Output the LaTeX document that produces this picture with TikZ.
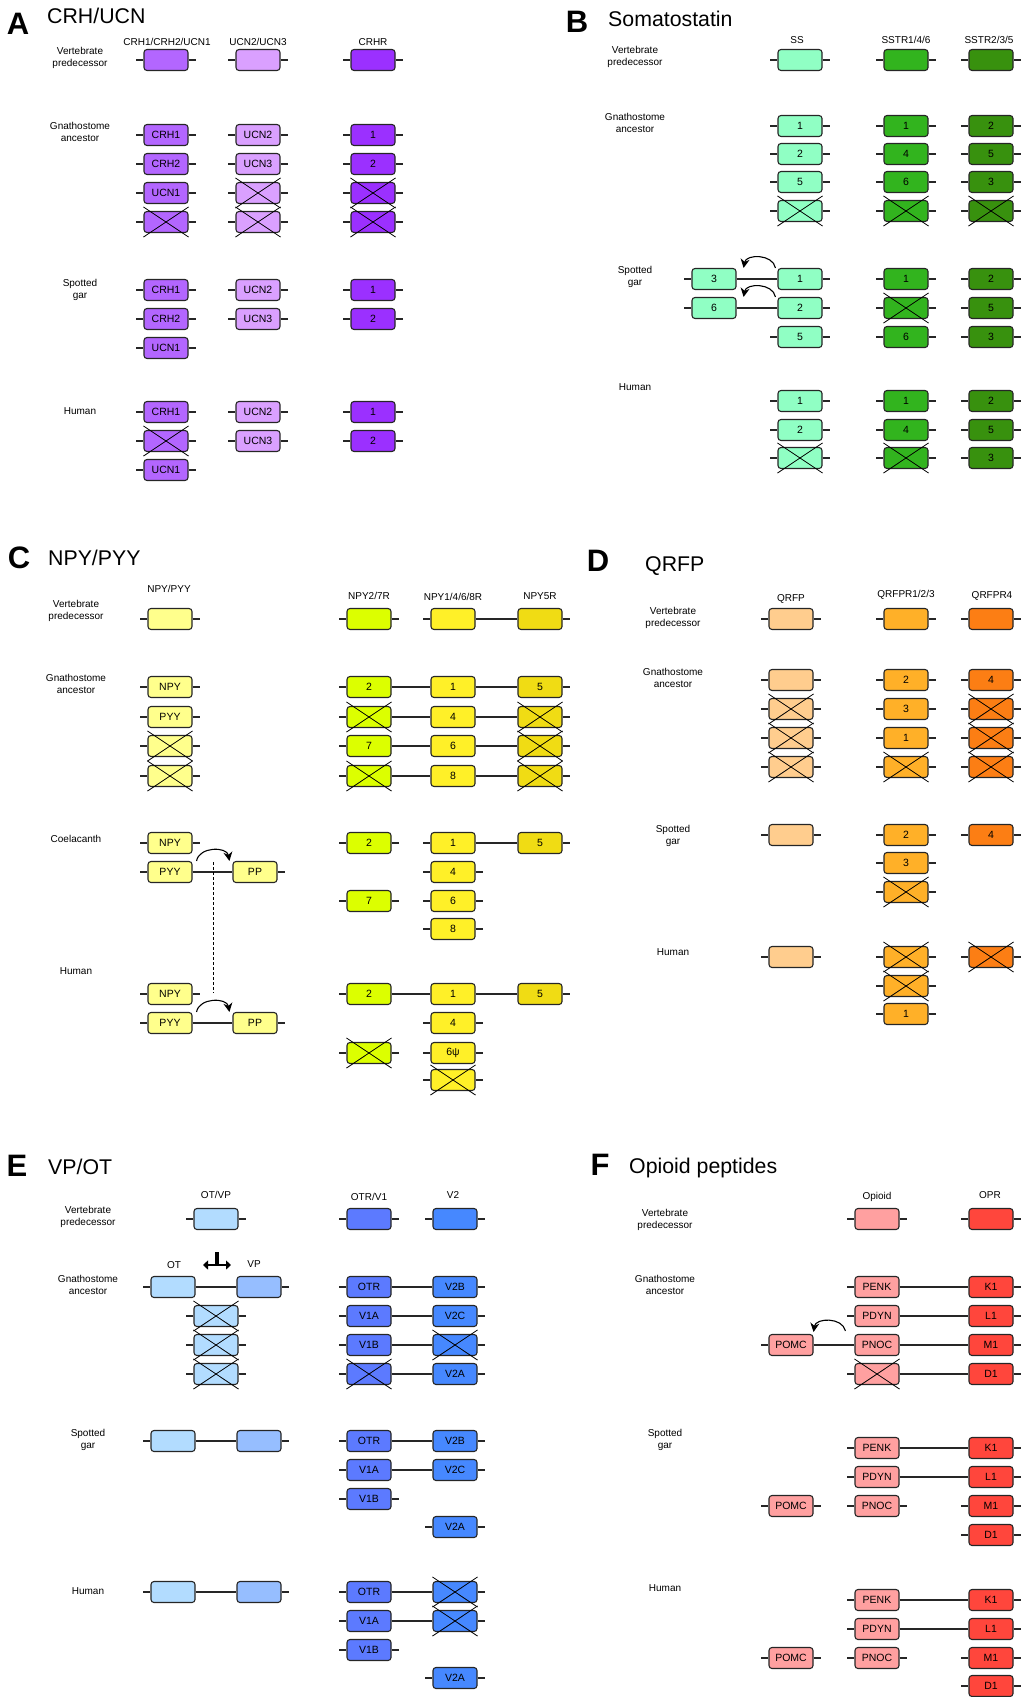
\documentclass[tikz,border=0pt]{standalone}
\usepackage{fontspec}
\setmainfont{Liberation Sans}
\usetikzlibrary{positioning,calc,arrows.meta}

\definecolor{crh}{RGB}{179,102,255}
\definecolor{ucn}{RGB}{218,160,255}
\definecolor{crhr}{RGB}{155,48,255}
\definecolor{ss}{RGB}{144,255,196}
\definecolor{sstra}{RGB}{50,180,30}
\definecolor{sstrb}{RGB}{56,145,14}
\definecolor{npy}{RGB}{255,255,140}
\definecolor{npyb}{RGB}{220,255,0}
\definecolor{npyc}{RGB}{255,240,40}
\definecolor{npyd}{RGB}{240,220,20}
\definecolor{qrfp}{RGB}{255,205,142}
\definecolor{qrfpr}{RGB}{255,176,40}
\definecolor{qrfprf}{RGB}{252,126,20}
\definecolor{ot}{RGB}{178,220,255}
\definecolor{vp}{RGB}{150,190,255}
\definecolor{otr}{RGB}{92,122,255}
\definecolor{vtwo}{RGB}{70,136,255}
\definecolor{opi}{RGB}{255,160,160}
\definecolor{opr}{RGB}{255,70,60}

\tikzset{
	gene/.style={draw=black!85, line width=1.1pt, rounded corners=3pt, fill=#1,
		minimum width=44pt, minimum height=21pt, inner sep=0pt,
		font=\fontsize{10.5}{12}\selectfont,
		append after command={
			([xshift=-7pt]\tikzlastnode.west) edge[stub] (\tikzlastnode.west)
			(\tikzlastnode.east) edge[stub] ([xshift=7pt]\tikzlastnode.east)}},
	gene/.default=white,
	stub/.style={draw=black!85, line width=1.1pt},
	lost/.style={append after command={
			([yshift=4pt]\tikzlastnode.north west) edge[cross] ([yshift=-4pt]\tikzlastnode.south east)
			([yshift=4pt]\tikzlastnode.north east) edge[cross] ([yshift=-4pt]\tikzlastnode.south west)}},
	cross/.style={draw=black, line width=0.8pt},
	link/.style={draw=black!85, line width=1.1pt},
	jump/.style={line width=1.1pt, looseness=1.15, -{Stealth[length=9pt,width=9pt]}},
	lbl/.style={align=center, inner sep=0pt, font=\fontsize{10}{12.5}\selectfont},
	hdr/.style={inner sep=0pt, font=\fontsize{10}{12}\selectfont},
	ttl/.style={anchor=west, inner sep=0pt, font=\fontsize{21.3}{24}\selectfont},
	panel/.style={inner sep=0pt, font=\fontsize{31}{32}\selectfont\bfseries}
}

\begin{document}
\begin{tikzpicture}[x=1pt, y=-1pt]
	\useasboundingbox (0,0) rectangle (1021,1697);

	% A: CRH/UCN
	\node[panel] (pA) at (18,24) {A};
	\node[ttl] (tA) at (47,16) {CRH/UCN};
	\node[hdr] (acol1) at (167,42) {CRH1/CRH2/UCN1};
	\node[hdr] (acol2) at (258,42) {UCN2/UCN3};
	\node[hdr] (acol3) at (373,42) {CRHR};
	\node[lbl] (arow1) at (80,58)  {Vertebrate\\predecessor};
	\node[lbl] (arow2) at (80,132) {Gnathostome\\ancestor};
	\node[lbl] (arow3) at (80,290) {Spotted\\gar};
	\node[lbl] (arow4) at (80,411) {Human};

	\node[gene=crh]  (ap1) at (166,60) {};
	\node[gene=ucn]  (ap2) at (258,60) {};
	\node[gene=crhr] (ap3) at (373,60) {};

	\node[gene=crh]       (ag11) at (166,135) {CRH1};
	\node[gene=crh]       (ag12) at (166,164) {CRH2};
	\node[gene=crh]       (ag13) at (166,193) {UCN1};
	\node[gene=crh, lost] (ag14) at (166,222) {};
	\node[gene=ucn]       (ag21) at (258,135) {UCN2};
	\node[gene=ucn]       (ag22) at (258,164) {UCN3};
	\node[gene=ucn, lost] (ag23) at (258,193) {};
	\node[gene=ucn, lost] (ag24) at (258,222) {};
	\node[gene=crhr]       (ag31) at (373,135) {1};
	\node[gene=crhr]       (ag32) at (373,164) {2};
	\node[gene=crhr, lost] (ag33) at (373,193) {};
	\node[gene=crhr, lost] (ag34) at (373,222) {};

	\node[gene=crh]  (as11) at (166,290) {CRH1};
	\node[gene=crh]  (as12) at (166,319) {CRH2};
	\node[gene=crh]  (as13) at (166,348) {UCN1};
	\node[gene=ucn]  (as21) at (258,290) {UCN2};
	\node[gene=ucn]  (as22) at (258,319) {UCN3};
	\node[gene=crhr] (as31) at (373,290) {1};
	\node[gene=crhr] (as32) at (373,319) {2};

	\node[gene=crh]       (ah11) at (166,412) {CRH1};
	\node[gene=crh, lost] (ah12) at (166,441) {};
	\node[gene=crh]       (ah13) at (166,470) {UCN1};
	\node[gene=ucn]  (ah21) at (258,412) {UCN2};
	\node[gene=ucn]  (ah22) at (258,441) {UCN3};
	\node[gene=crhr] (ah31) at (373,412) {1};
	\node[gene=crhr] (ah32) at (373,441) {2};

	% B: Somatostatin
	\node[panel] (pB) at (577,22) {B};
	\node[ttl] (tB) at (608,19) {Somatostatin};
	\node[hdr] (bcol1) at (797,40) {SS};
	\node[hdr] (bcol2) at (906,40) {SSTR1/4/6};
	\node[hdr] (bcol3) at (989,40) {SSTR2/3/5};
	\node[lbl] (brow1) at (635,57)  {Vertebrate\\predecessor};
	\node[lbl] (brow2) at (635,123) {Gnathostome\\ancestor};
	\node[lbl] (brow3) at (635,277) {Spotted\\gar};
	\node[lbl] (brow4) at (635,387) {Human};

	\node[gene=ss]    (bp1) at (800,60) {};
	\node[gene=sstra] (bp2) at (906,60) {};
	\node[gene=sstrb] (bp3) at (991,60) {};

	\node[gene=ss]          (bg11) at (800,126) {1};
	\node[gene=ss]          (bg12) at (800,154) {2};
	\node[gene=ss]          (bg13) at (800,182) {5};
	\node[gene=ss, lost]    (bg14) at (800,211) {};
	\node[gene=sstra]       (bg21) at (906,126) {1};
	\node[gene=sstra]       (bg22) at (906,154) {4};
	\node[gene=sstra]       (bg23) at (906,182) {6};
	\node[gene=sstra, lost] (bg24) at (906,211) {};
	\node[gene=sstrb]       (bg31) at (991,126) {2};
	\node[gene=sstrb]       (bg32) at (991,154) {5};
	\node[gene=sstrb]       (bg33) at (991,182) {3};
	\node[gene=sstrb, lost] (bg34) at (991,211) {};

	\node[gene=ss]          (bs01) at (714,279) {3};
	\node[gene=ss]          (bs02) at (714,308) {6};
	\node[gene=ss]          (bs11) at (800,279) {1};
	\node[gene=ss]          (bs12) at (800,308) {2};
	\node[gene=ss]          (bs13) at (800,337) {5};
	\node[gene=sstra]       (bs21) at (906,279) {1};
	\node[gene=sstra, lost] (bs22) at (906,308) {};
	\node[gene=sstra]       (bs23) at (906,337) {6};
	\node[gene=sstrb]       (bs31) at (991,279) {2};
	\node[gene=sstrb]       (bs32) at (991,308) {5};
	\node[gene=sstrb]       (bs33) at (991,337) {3};

	\node[gene=ss]          (bh11) at (800,401) {1};
	\node[gene=ss]          (bh12) at (800,430) {2};
	\node[gene=ss, lost]    (bh13) at (800,458) {};
	\node[gene=sstra]       (bh21) at (906,401) {1};
	\node[gene=sstra]       (bh22) at (906,430) {4};
	\node[gene=sstra, lost] (bh23) at (906,458) {};
	\node[gene=sstrb]       (bh31) at (991,401) {2};
	\node[gene=sstrb]       (bh32) at (991,430) {5};
	\node[gene=sstrb]       (bh33) at (991,458) {3};

	\draw[link] (bs01) to (bs11);
	\draw[link] (bs02) to (bs12);
	\draw[jump] ([xshift=-2pt]bs11.north west) to[bend right=80] ([xshift=7pt]bs01.north east);
	\draw[jump] ([xshift=-2pt]bs12.north west) to[bend right=80] ([xshift=7pt]bs02.north east);

	% C: NPY/PYY
	\node[panel] (pC) at (19,558) {C};
	\node[ttl] (tC) at (48,558) {NPY/PYY};
	\node[hdr] (ccol1) at (169,589) {NPY/PYY};
	\node[hdr] (ccol3) at (369,596) {NPY2/7R};
	\node[hdr] (ccol4) at (453,597) {NPY1/4/6/8R};
	\node[hdr] (ccol5) at (540,596) {NPY5R};
	\node[lbl] (crow1) at (76,611) {Vertebrate\\predecessor};
	\node[lbl] (crow2) at (76,684) {Gnathostome\\ancestor};
	\node[lbl] (crow3) at (76,839) {Coelacanth};
	\node[lbl] (crow4) at (76,971) {Human};

	\node[gene=npy]  (cp1) at (170,619) {};
	\node[gene=npyb] (cp3) at (369,619) {};
	\node[gene=npyc] (cp4) at (453,619) {};
	\node[gene=npyd] (cp5) at (540,619) {};
	\draw[link] (cp4) to (cp5);

	\node[gene=npy]        (cg11) at (170,687) {NPY};
	\node[gene=npy]        (cg12) at (170,717) {PYY};
	\node[gene=npy, lost]  (cg13) at (170,746) {};
	\node[gene=npy, lost]  (cg14) at (170,776) {};
	\node[gene=npyb]       (cg31) at (369,687) {2};
	\node[gene=npyb, lost] (cg32) at (369,717) {};
	\node[gene=npyb]       (cg33) at (369,746) {7};
	\node[gene=npyb, lost] (cg34) at (369,776) {};
	\node[gene=npyc]       (cg41) at (453,687) {1};
	\node[gene=npyc]       (cg42) at (453,717) {4};
	\node[gene=npyc]       (cg43) at (453,746) {6};
	\node[gene=npyc]       (cg44) at (453,776) {8};
	\node[gene=npyd]       (cg51) at (540,687) {5};
	\node[gene=npyd, lost] (cg52) at (540,717) {};
	\node[gene=npyd, lost] (cg53) at (540,746) {};
	\node[gene=npyd, lost] (cg54) at (540,776) {};
	\draw[link] (cg31) to (cg41) to (cg51);
	\draw[link] (cg32) to (cg42) to (cg52);
	\draw[link] (cg33) to (cg43) to (cg53);
	\draw[link] (cg34) to (cg44) to (cg54);

	\node[gene=npy]  (cc11) at (170,843) {NPY};
	\node[gene=npy]  (cc12) at (170,872) {PYY};
	\node[gene=npy]  (cc22) at (255,872) {PP};
	\node[gene=npyb] (cc31) at (369,843) {2};
	\node[gene=npyb] (cc33) at (369,901) {7};
	\node[gene=npyc] (cc41) at (453,843) {1};
	\node[gene=npyc] (cc42) at (453,872) {4};
	\node[gene=npyc] (cc43) at (453,901) {6};
	\node[gene=npyc] (cc44) at (453,929) {8};
	\node[gene=npyd] (cc51) at (540,843) {5};
	\draw[link] (cc12) to (cc22);
	\draw[link] (cc41) to (cc51);
	\draw[jump] ([xshift=4pt]cc12.north east) to[bend left=80] ([xshift=-3pt]cc22.north west);

	\node[gene=npy]        (ch11) at (170,994) {NPY};
	\node[gene=npy]        (ch12) at (170,1023) {PYY};
	\node[gene=npy]        (ch22) at (255,1023) {PP};
	\node[gene=npyb]       (ch31) at (369,994) {2};
	\node[gene=npyb, lost] (ch33) at (369,1053) {};
	\node[gene=npyc]       (ch41) at (453,994) {1};
	\node[gene=npyc]       (ch42) at (453,1023) {4};
	\node[gene=npyc]       (ch43) at (453,1053) {6ψ};
	\node[gene=npyc, lost] (ch44) at (453,1080) {};
	\node[gene=npyd]       (ch51) at (540,994) {5};
	\draw[link] (ch12) to (ch22);
	\draw[link] (ch31) to (ch41) to (ch51);
	\draw[jump] ([xshift=4pt]ch12.north east) to[bend left=80] ([xshift=-3pt]ch22.north west);

	\coordinate (dtop) at (213,862);
	\coordinate (dbot) at (213,993);
	\draw[dashed, line width=0.9pt, dash pattern=on 3pt off 2pt] (dtop) to (dbot);

	% D: QRFP
	\node[panel] (pD) at (598,561) {D};
	\node[ttl] (tD) at (645,566) {QRFP};
	\node[hdr] (dcol1) at (791,599) {QRFP};
	\node[hdr] (dcol2) at (906,595) {QRFPR1/2/3};
	\node[hdr] (dcol3) at (992,596) {QRFPR4};
	\node[lbl] (drow1) at (673,618) {Vertebrate\\predecessor};
	\node[lbl] (drow2) at (673,678) {Gnathostome\\ancestor};
	\node[lbl] (drow3) at (673,836) {Spotted\\gar};
	\node[lbl] (drow4) at (673,952) {Human};

	\node[gene=qrfp]   (dp1) at (791,619) {};
	\node[gene=qrfpr]  (dp2) at (906,619) {};
	\node[gene=qrfprf] (dp3) at (991,619) {};

	\node[gene=qrfp]         (dg11) at (791,680) {};
	\node[gene=qrfp, lost]   (dg12) at (791,709) {};
	\node[gene=qrfp, lost]   (dg13) at (791,738) {};
	\node[gene=qrfp, lost]   (dg14) at (791,767) {};
	\node[gene=qrfpr]        (dg21) at (906,680) {2};
	\node[gene=qrfpr]        (dg22) at (906,709) {3};
	\node[gene=qrfpr]        (dg23) at (906,738) {1};
	\node[gene=qrfpr, lost]  (dg24) at (906,767) {};
	\node[gene=qrfprf]       (dg31) at (991,680) {4};
	\node[gene=qrfprf, lost] (dg32) at (991,709) {};
	\node[gene=qrfprf, lost] (dg33) at (991,738) {};
	\node[gene=qrfprf, lost] (dg34) at (991,767) {};

	\node[gene=qrfp]        (ds11) at (791,835) {};
	\node[gene=qrfpr]       (ds21) at (906,835) {2};
	\node[gene=qrfpr]       (ds22) at (906,863) {3};
	\node[gene=qrfpr, lost] (ds23) at (906,892) {};
	\node[gene=qrfprf]      (ds31) at (991,835) {4};

	\node[gene=qrfp]         (dh11) at (791,957) {};
	\node[gene=qrfpr, lost]  (dh21) at (906,957) {};
	\node[gene=qrfpr, lost]  (dh22) at (906,986) {};
	\node[gene=qrfpr]        (dh23) at (906,1014) {1};
	\node[gene=qrfprf, lost] (dh31) at (991,957) {};

	% E: VP/OT
	\node[panel] (pE) at (17,1166) {E};
	\node[ttl] (tE) at (48,1167) {VP/OT};
	\node[hdr] (ecol1) at (216,1195) {OT/VP};
	\node[hdr] (ecol3) at (369,1197) {OTR/V1};
	\node[hdr] (ecol4) at (453,1195) {V2};
	\node[hdr] (eot) at (174,1265) {OT};
	\node[hdr] (evp) at (254,1264) {VP};
	\node[lbl] (erow1) at (88,1217) {Vertebrate\\predecessor};
	\node[lbl] (erow2) at (88,1285) {Gnathostome\\ancestor};
	\node[lbl] (erow3) at (88,1440) {Spotted\\gar};
	\node[lbl] (erow4) at (88,1591) {Human};

	\coordinate (estem) at (217,1252);
	\coordinate (emid)  at (217,1265);
	\coordinate (eleft) at (203,1265);
	\coordinate (eright) at (231,1265);
	\draw[line width=3.2pt] (estem) to (emid);
	\draw[line width=2.8pt, {Triangle[length=5pt,width=9pt]}-{Triangle[length=5pt,width=9pt]}] (eleft) to (eright);

	\node[gene=ot]   (ep1) at (216,1219) {};
	\node[gene=otr]  (ep3) at (369,1219) {};
	\node[gene=vtwo] (ep4) at (455,1219) {};

	\node[gene=ot]         (eg11) at (173,1287) {};
	\node[gene=vp]         (eg21) at (259,1287) {};
	\node[gene=ot, lost]   (eg12) at (216,1316) {};
	\node[gene=ot, lost]   (eg13) at (216,1345) {};
	\node[gene=ot, lost]   (eg14) at (216,1374) {};
	\node[gene=otr]        (eg31) at (369,1287) {OTR};
	\node[gene=otr]        (eg32) at (369,1316) {V1A};
	\node[gene=otr]        (eg33) at (369,1345) {V1B};
	\node[gene=otr, lost]  (eg34) at (369,1374) {};
	\node[gene=vtwo]       (eg41) at (455,1287) {V2B};
	\node[gene=vtwo]       (eg42) at (455,1316) {V2C};
	\node[gene=vtwo, lost] (eg43) at (455,1345) {};
	\node[gene=vtwo]       (eg44) at (455,1374) {V2A};
	\draw[link] (eg11) to (eg21);
	\draw[link] (eg31) to (eg41);
	\draw[link] (eg32) to (eg42);
	\draw[link] (eg33) to (eg43);
	\draw[link] (eg34) to (eg44);

	\node[gene=ot]   (es11) at (173,1441) {};
	\node[gene=vp]   (es21) at (259,1441) {};
	\node[gene=otr]  (es31) at (369,1441) {OTR};
	\node[gene=otr]  (es32) at (369,1470) {V1A};
	\node[gene=otr]  (es33) at (369,1499) {V1B};
	\node[gene=vtwo] (es41) at (455,1441) {V2B};
	\node[gene=vtwo] (es42) at (455,1470) {V2C};
	\node[gene=vtwo] (es44) at (455,1527) {V2A};
	\draw[link] (es11) to (es21);
	\draw[link] (es31) to (es41);
	\draw[link] (es32) to (es42);

	\node[gene=ot]         (eh11) at (173,1592) {};
	\node[gene=vp]         (eh21) at (259,1592) {};
	\node[gene=otr]        (eh31) at (369,1592) {OTR};
	\node[gene=otr]        (eh32) at (369,1621) {V1A};
	\node[gene=otr]        (eh33) at (369,1650) {V1B};
	\node[gene=vtwo, lost] (eh41) at (455,1592) {};
	\node[gene=vtwo, lost] (eh42) at (455,1621) {};
	\node[gene=vtwo]       (eh44) at (455,1678) {V2A};
	\draw[link] (eh11) to (eh21);
	\draw[link] (eh31) to (eh41);
	\draw[link] (eh32) to (eh42);

	% F: Opioid peptides
	\node[panel] (pF) at (600,1165) {F};
	\node[ttl] (tF) at (629,1168) {Opioid peptides};
	\node[hdr] (fcol1) at (877,1197) {Opioid};
	\node[hdr] (fcol2) at (990,1195) {OPR};
	\node[lbl] (frow1) at (665,1220) {Vertebrate\\predecessor};
	\node[lbl] (frow2) at (665,1285) {Gnathostome\\ancestor};
	\node[lbl] (frow3) at (665,1440) {Spotted\\gar};
	\node[lbl] (frow4) at (665,1588) {Human};

	\node[gene=opi] (fp1) at (877,1219) {};
	\node[gene=opr] (fp2) at (991,1219) {};

	\node[gene=opi]       (fg03) at (791,1345) {POMC};
	\node[gene=opi]       (fg11) at (877,1287) {PENK};
	\node[gene=opi]       (fg12) at (877,1316) {PDYN};
	\node[gene=opi]       (fg13) at (877,1345) {PNOC};
	\node[gene=opi, lost] (fg14) at (877,1374) {};
	\node[gene=opr]       (fg21) at (991,1287) {K1};
	\node[gene=opr]       (fg22) at (991,1316) {L1};
	\node[gene=opr]       (fg23) at (991,1345) {M1};
	\node[gene=opr]       (fg24) at (991,1374) {D1};
	\draw[link] (fg11) to (fg21);
	\draw[link] (fg12) to (fg22);
	\draw[link] (fg03) to (fg13) to (fg23);
	\draw[link] (fg14) to (fg24);
	\draw[jump] ([xshift=-9pt,yshift=3pt]fg13.north west) to[bend right=80] ([yshift=2pt]fg03.north east);

	\node[gene=opi] (fs03) at (791,1506) {POMC};
	\node[gene=opi] (fs11) at (877,1448) {PENK};
	\node[gene=opi] (fs12) at (877,1477) {PDYN};
	\node[gene=opi] (fs13) at (877,1506) {PNOC};
	\node[gene=opr] (fs21) at (991,1448) {K1};
	\node[gene=opr] (fs22) at (991,1477) {L1};
	\node[gene=opr] (fs23) at (991,1506) {M1};
	\node[gene=opr] (fs24) at (991,1535) {D1};
	\draw[link] (fs11) to (fs21);
	\draw[link] (fs12) to (fs22);

	\node[gene=opi] (fh03) at (791,1658) {POMC};
	\node[gene=opi] (fh11) at (877,1600) {PENK};
	\node[gene=opi] (fh12) at (877,1629) {PDYN};
	\node[gene=opi] (fh13) at (877,1658) {PNOC};
	\node[gene=opr] (fh21) at (991,1600) {K1};
	\node[gene=opr] (fh22) at (991,1629) {L1};
	\node[gene=opr] (fh23) at (991,1658) {M1};
	\node[gene=opr] (fh24) at (991,1686) {D1};
	\draw[link] (fh11) to (fh21);
	\draw[link] (fh12) to (fh22);
\end{tikzpicture}
\end{document}
